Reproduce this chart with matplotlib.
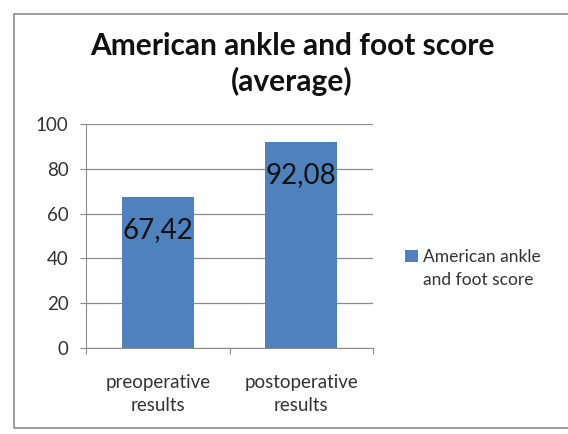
import numpy as np
import matplotlib.pyplot as plt
from matplotlib.patches import Rectangle

categories = ["preoperative\nresults", "postoperative\nresults"]
scores = [67.42, 92.08]
labels = ["67,42", "92,08"]
series_name = ["American ankle", "and foot score"]

plt.rcParams['font.family'] = ['Lato', 'DejaVu Sans']

fig = plt.figure(figsize=(5.68, 4.34), dpi=100)
fig.patches.append(Rectangle((14 / 568, 6 / 434), 1.2, 414 / 434, transform=fig.transFigure,
                             fill=False, edgecolor="#8c8c8c", linewidth=1.2))

ax = fig.add_axes([86 / 568, 1 - 348 / 434, (373 - 86) / 568, (348 - 124) / 434])
x = np.arange(len(categories))
bars = ax.bar(x, scores, width=0.5, color="#4F81BD", zorder=3)
for b, lab in zip(bars, labels):
    ax.text(b.get_x() + b.get_width() / 2, b.get_height() - 9, lab,
            ha="center", va="top", fontsize=20, color="#111111", zorder=4)

ax.set_xlim(-0.5, 1.5)
ax.set_ylim(0, 100)
ax.set_yticks(range(0, 101, 20))
ax.yaxis.grid(True, color="#8c8c8c", linewidth=0.9, zorder=0)
ax.set_xticks([-0.5, 0.5, 1.5])
ax.set_xticklabels([])
ax.set_xticks(x, minor=True)
ax.set_xticklabels(categories, minor=True, fontsize=13.5, color="#333333", linespacing=1.4)
ax.tick_params(axis="x", which="minor", length=0, pad=19)
ax.tick_params(axis="x", which="major", length=4.5, color="#8c8c8c", direction="out")
ax.tick_params(axis="y", length=4.5, color="#8c8c8c", labelsize=13.5, labelcolor="#333333", pad=8)
for s in ["top", "right"]:
    ax.spines[s].set_visible(False)
for s in ["left", "bottom"]:
    ax.spines[s].set_color("#8c8c8c")

fig.text(292 / 568, 1 - 46 / 434, "American ankle and foot score", ha="center", va="center",
         fontsize=21.5, fontweight="bold", color="#111111")
fig.text(292 / 568, 1 - 81 / 434, "(average)", ha="center", va="center",
         fontsize=21.5, fontweight="bold", color="#111111")

# legend: marker sits on the first line, second line wraps below
leg = ax.legend([bars[0]], [series_name[0]], loc="center left", bbox_to_anchor=(1.086, 0.406),
                frameon=False, fontsize=12.5, handlelength=0.75, handleheight=0.75,
                handletextpad=0.3, labelcolor="#333333", borderaxespad=0)
fig.text(423 / 568, 1 - 280 / 434, series_name[1], ha="left", va="center",
         fontsize=12.5, color="#333333")

fig.savefig("out.png", dpi=100)
